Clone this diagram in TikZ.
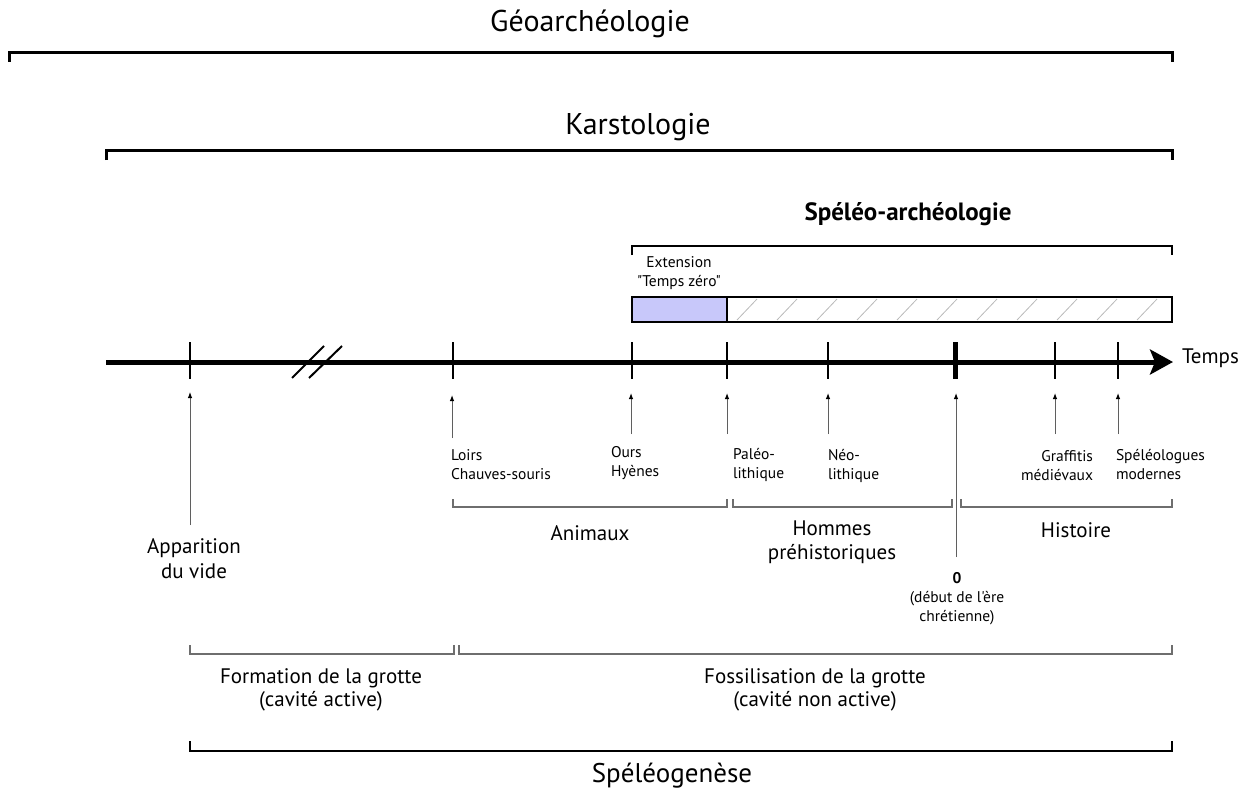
\documentclass[tikz,border=0pt]{standalone}
\usepackage{fontspec}
\setmainfont{PT Sans}[Ligatures=TeXOff]
\usetikzlibrary{arrows.meta}
\definecolor{bluefill}{RGB}{200,200,250}
\definecolor{arrgray}{RGB}{95,95,95}
\definecolor{brgray}{RGB}{110,110,110}
\definecolor{hatchgray}{RGB}{185,185,185}
\begin{document}
\begin{tikzpicture}[x=1pt,y=-1pt,
  every node/.style={inner sep=0pt, outer sep=0pt},
  bigtitle/.style={font=\fontsize{30}{34}\selectfont},
  boldtitle/.style={font=\fontsize{25}{28}\selectfont\bfseries},
  midlabel/.style={font=\fontsize{21}{23.5}\selectfont, align=center},
  smalllabel/.style={font=\fontsize{15.5}{19}\selectfont},
  topbracket/.style={line width=3pt, line cap=butt},
  thinbracket/.style={draw=brgray, line width=1.3pt},
  tickline/.style={line width=1.6pt},
  uparrow/.style={draw=arrgray, line width=1pt, -{Latex[length=6pt,width=4.5pt,black]}},
  hatchline/.style={draw=hatchgray, line width=0.8pt}
]
\useasboundingbox (0,0) rectangle (1249,789);

% ---- top brackets and titles
\node[bigtitle] (geo) at (590,24) {Géoarchéologie};
\draw[topbracket] (9,62) -- (9,53) -- (1172,53) -- (1172,62);
\node[bigtitle] (karst) at (638,127) {Karstologie};
\draw[topbracket] (106,160) -- (106,150) -- (1172,150) -- (1172,160);
\node[boldtitle] (spa) at (908,214) {Spéléo-archéologie};
\draw[line width=2.2pt] (632,255) -- (632,246) -- (1172,246) -- (1172,255);

% ---- extension box
\node[smalllabel, align=center] (ext) at (679,273) {Extension\\"Temps zéro"};
\fill[bluefill] (632,297) rectangle (727,322);
\begin{scope}
\clip (727,297) rectangle (1172,322);
\foreach \h in {737,777,...,1137} {
  \draw[hatchline] (\h,320) -- (\h+20,299);
}
\end{scope}
\draw[line width=1.4pt] (632,297) rectangle (1172,322);
\draw[line width=1.4pt] (727,297) -- (727,322);

% ---- timeline
\coordinate (tstart) at (106,362);
\coordinate (tend) at (1173,362);
\draw[line width=5pt, -{Stealth[length=23pt,width=25pt,inset=5pt]}] (tstart) -- (tend);
\node[font=\fontsize{21}{23}\selectfont, anchor=west] (temps) at (1182,358) {Temps};
\foreach \t in {190,453,632,727,828,1055,1118} {
  \draw[tickline] (\t,342) -- (\t,379);
}
\draw[line width=5pt] (955,342) -- (955,379);
% break mark
\draw[line width=2pt] (292,378) -- (324,346);
\draw[line width=2pt] (309,378) -- (342,346);

% ---- arrows and labels
\coordinate (a1t) at (190,392); \coordinate (a1b) at (190,525);
\coordinate (a2t) at (452,395); \coordinate (a2b) at (452,438);
\coordinate (a3t) at (631,393); \coordinate (a3b) at (631,434);
\coordinate (a4t) at (727,393); \coordinate (a4b) at (727,434);
\coordinate (a5t) at (828,393); \coordinate (a5b) at (828,434);
\coordinate (a6t) at (956,393); \coordinate (a6b) at (956,557);
\coordinate (a7t) at (1055,393); \coordinate (a7b) at (1055,434);
\coordinate (a8t) at (1118,393); \coordinate (a8b) at (1118,434);
\foreach \i in {1,...,8} { \draw[uparrow] (a\i b) -- (a\i t); }

\node[midlabel, font=\fontsize{21}{25}\selectfont] (appar) at (194,559) {Apparition\\du vide};
\node[smalllabel, align=left, anchor=west] (loirs) at (451,465) {Loirs\\Chauves-souris};
\node[smalllabel, align=left, anchor=west] (ours) at (611,463) {Ours\\Hyènes};
\node[smalllabel, align=left, anchor=west] (paleo) at (733,465) {Paléo-\\lithique};
\node[smalllabel, align=left, anchor=west] (neo) at (828,466) {Néo-\\lithique};
\node[smalllabel, align=right, anchor=east] (graff) at (1093,466) {Graffitis\\médiévaux};
\node[smalllabel, align=left, anchor=west] (spmod) at (1116,465) {Spéléologues\\modernes};
\node[smalllabel, align=center] (zero) at (957,599) {\textbf{0}\\(début de l'ère\\chrétienne)};

% ---- middle brackets
\draw[thinbracket] (453,499) -- (453,507) -- (727,507) -- (727,499);
\draw[thinbracket] (733,499) -- (733,507) -- (952,507) -- (952,499);
\draw[thinbracket] (961,499) -- (961,507) -- (1172,507) -- (1172,499);
\node[midlabel] (anim) at (590,533) {Animaux};
\node[midlabel] (hommes) at (832,542) {Hommes\\préhistoriques};
\node[midlabel] (hist) at (1076,530) {Histoire};

% ---- bottom brackets
\draw[thinbracket] (190,645) -- (190,654) -- (454,654) -- (454,645);
\draw[thinbracket] (459,645) -- (459,654) -- (1172,654) -- (1172,645);
\node[midlabel] (form) at (321,690) {Formation de la grotte\\(cavité active)};
\node[midlabel] (foss) at (815,690) {Fossilisation de la grotte\\(cavité non active)};
\draw[line width=2.5pt] (190,741) -- (190,751) -- (1172,751) -- (1172,741);
\node[font=\fontsize{27}{30}\selectfont] (speleog) at (672,776) {Spéléogenèse};
\end{tikzpicture}
\end{document}
